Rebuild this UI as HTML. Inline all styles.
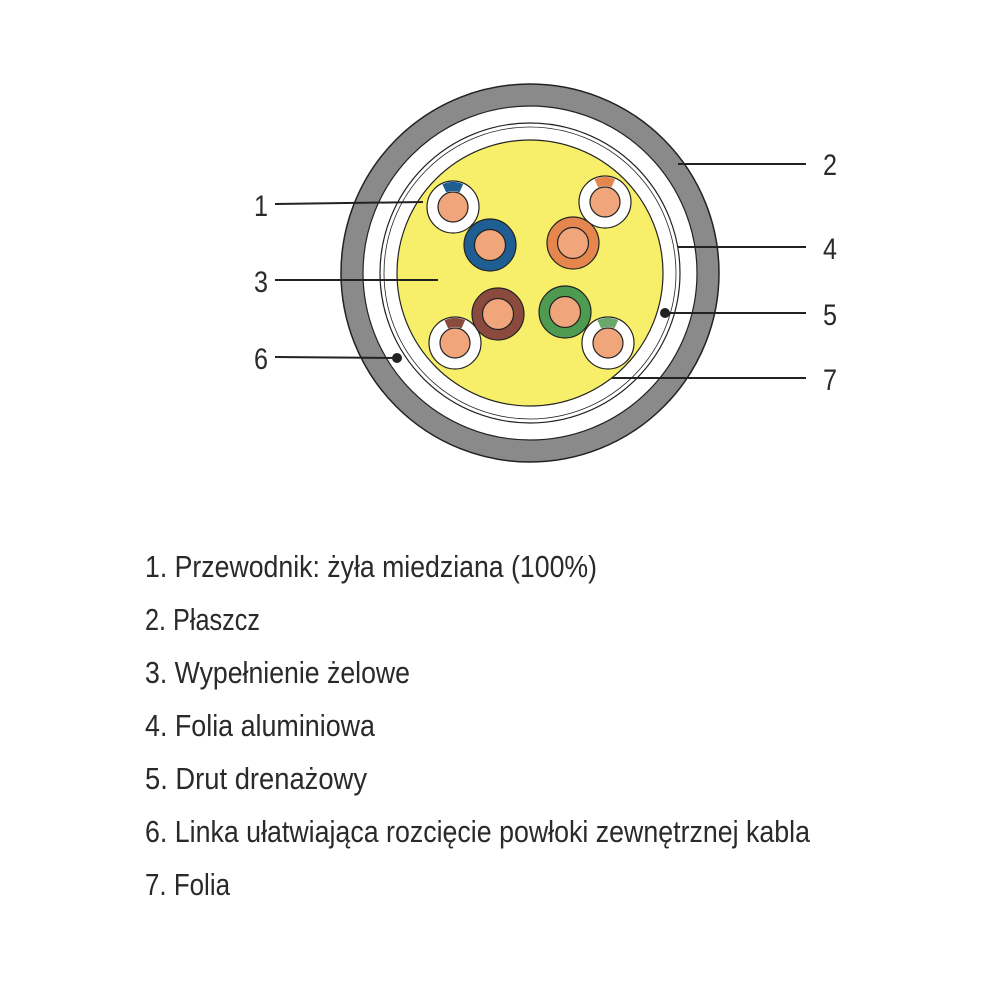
<!DOCTYPE html>
<html><head><meta charset="utf-8"><style>
html,body{margin:0;padding:0;background:#fff;width:1000px;height:1000px;overflow:hidden}
svg text{font-family:"Liberation Sans",sans-serif;fill:#2a2a2a}
</style></head><body>
<svg width="1000" height="1000" viewBox="0 0 1000 1000" xmlns="http://www.w3.org/2000/svg">
<circle cx="530" cy="273" r="189" fill="#8a8a8a" stroke="#222" stroke-width="1.5"/>
<circle cx="530" cy="273" r="167" fill="#fff" stroke="#222" stroke-width="1.2"/>
<circle cx="530" cy="273" r="150" fill="none" stroke="#222" stroke-width="1.2"/>
<circle cx="530" cy="273" r="146" fill="none" stroke="#222" stroke-width="0.8"/>
<circle cx="530" cy="273" r="133" fill="#f7ef6a" stroke="#222" stroke-width="1.2"/>
<g stroke="#222" stroke-width="1.2">
<circle cx="453" cy="207" r="26" fill="#fff"/>
<circle cx="605" cy="202" r="26" fill="#fff"/>
<circle cx="455" cy="343" r="26" fill="#fff"/>
<circle cx="608" cy="343" r="26" fill="#fff"/>
</g>
<g fill="none" stroke-width="9" stroke-dasharray="17.5 200">
<circle cx="453" cy="207" r="20.5" stroke="#1f5e93" transform="rotate(-115 453 207)"/>
<circle cx="605" cy="202" r="20.5" stroke="#e5864f" transform="rotate(-115 605 202)"/>
<circle cx="455" cy="343" r="20.5" stroke="#8a4a3e" transform="rotate(-115 455 343)"/>
<circle cx="608" cy="343" r="20.5" stroke="#6aa86a" transform="rotate(-115 608 343)"/>
</g>
<g stroke="#222" stroke-width="1.2">
<circle cx="453" cy="207" r="15" fill="#f0a57a"/>
<circle cx="605" cy="202" r="15" fill="#f0a57a"/>
<circle cx="455" cy="343" r="15" fill="#f0a57a"/>
<circle cx="608" cy="343" r="15" fill="#f0a57a"/>
<circle cx="490" cy="245" r="26" fill="#1f5e93"/>
<circle cx="490" cy="245" r="15.5" fill="#f0a57a"/>
<circle cx="573" cy="243" r="26" fill="#e5864f"/>
<circle cx="573" cy="243" r="15.5" fill="#f0a57a"/>
<circle cx="498" cy="314" r="26" fill="#8a4a3e"/>
<circle cx="498" cy="314" r="15.5" fill="#f0a57a"/>
<circle cx="565" cy="312" r="26" fill="#4e9a50"/>
<circle cx="565" cy="312" r="15.5" fill="#f0a57a"/>
</g>
<g stroke="#222" stroke-width="2">
<line x1="275" y1="204" x2="423" y2="202"/>
<line x1="275" y1="280" x2="438" y2="280"/>
<line x1="275" y1="357" x2="397" y2="358"/>
<line x1="678" y1="164" x2="806" y2="164"/>
<line x1="678" y1="247" x2="806" y2="247"/>
<line x1="665" y1="313" x2="806" y2="313"/>
<line x1="612" y1="378" x2="806" y2="378"/>
</g>
<circle cx="397" cy="358" r="5" fill="#222"/>
<circle cx="665" cy="313" r="5" fill="#222"/>
<g font-size="30">
<text x="254" y="216" textLength="14" lengthAdjust="spacingAndGlyphs">1</text>
<text x="254" y="292" textLength="14" lengthAdjust="spacingAndGlyphs">3</text>
<text x="254" y="369" textLength="14" lengthAdjust="spacingAndGlyphs">6</text>
<text x="823" y="175" textLength="14" lengthAdjust="spacingAndGlyphs">2</text>
<text x="823" y="259" textLength="14" lengthAdjust="spacingAndGlyphs">4</text>
<text x="823" y="325" textLength="14" lengthAdjust="spacingAndGlyphs">5</text>
<text x="823" y="390" textLength="14" lengthAdjust="spacingAndGlyphs">7</text>
</g>
<g font-size="31">
<text x="145" y="577" textLength="452" lengthAdjust="spacingAndGlyphs">1. Przewodnik: żyła miedziana (100%)</text>
<text x="145" y="630" textLength="115" lengthAdjust="spacingAndGlyphs">2. Płaszcz</text>
<text x="145" y="683" textLength="265" lengthAdjust="spacingAndGlyphs">3. Wypełnienie żelowe</text>
<text x="145" y="736" textLength="230" lengthAdjust="spacingAndGlyphs">4. Folia aluminiowa</text>
<text x="145" y="789" textLength="222" lengthAdjust="spacingAndGlyphs">5. Drut drenażowy</text>
<text x="145" y="842" textLength="665" lengthAdjust="spacingAndGlyphs">6. Linka ułatwiająca rozcięcie powłoki zewnętrznej kabla</text>
<text x="145" y="895" textLength="85" lengthAdjust="spacingAndGlyphs">7. Folia</text>
</g>
</svg>
</body></html>
